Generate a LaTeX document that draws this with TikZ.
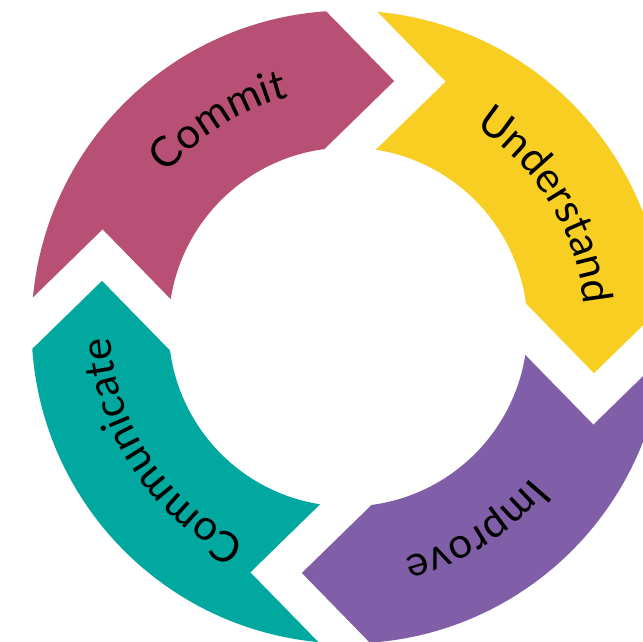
\documentclass[tikz,border=0pt]{standalone}
\usepackage{fontspec}
\setmainfont{Lato}
\usetikzlibrary{decorations.text}
\definecolor{cCommit}{RGB}{184,80,117}
\definecolor{cUnder}{RGB}{249,206,34}
\definecolor{cImprove}{RGB}{128,94,168}
\definecolor{cComm}{RGB}{0,168,160}
\newcommand\segpath[1]{({175.333+(#1)}:316.5pt) arc[start angle={175.333+(#1)}, end angle={94.667+(#1)}, radius=316.5pt] -- ({80.07+(#1)}:250.29pt) -- ({98.247+(#1)}:179.5pt) arc[start angle={98.247+(#1)}, end angle={171.753+(#1)}, radius=179.5pt] -- ({159.0+(#1)}:264.09pt) -- cycle}
\newcommand\labelpath[2]{\path[decorate, decoration={text along path, text align=center, text={|\fontsize{42}{42}\selectfont|#2}}] ({#1+45}:237pt) arc[start angle={#1+45}, end angle={#1-45}, radius=237pt];}
\begin{document}
\begin{tikzpicture}
\useasboundingbox (0pt,-642pt) rectangle (643pt,0pt);
\clip (0pt,-642pt) rectangle (643pt,0pt);
\fill[white] (0pt,-642pt) rectangle (643pt,0pt);
\begin{scope}[shift={(348pt,-327pt)}]
\fill[cCommit] \segpath{-0.7};
\fill[cUnder] \segpath{-90.7};
\fill[cImprove] \segpath{-180.7};
\fill[cComm] \segpath{-270.7};
\labelpath{122.1}{Commit}
\labelpath{31.5}{Understand}
\labelpath{-57.9}{Improve}
\labelpath{-146.5}{Communicate}
\end{scope}
\end{tikzpicture}
\end{document}
